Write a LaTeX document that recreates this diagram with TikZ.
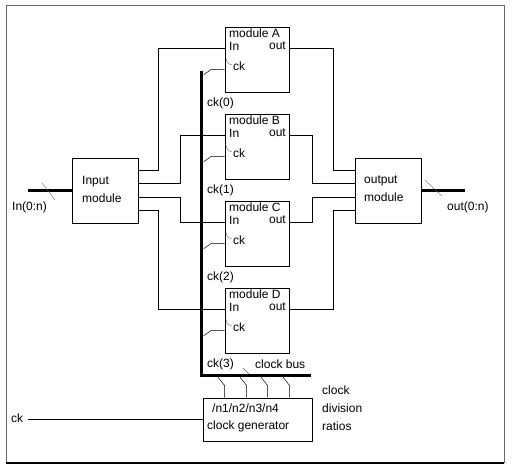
\documentclass[tikz,border=0pt]{standalone}
\usepackage{fontspec}
\setmainfont{Liberation Sans}
\begin{document}
\begin{tikzpicture}
  [
  x=1pt,y=-1pt,
  modbox/.style={draw,line width=0.6pt,minimum width=64pt,minimum height=65pt,inner sep=0pt},
  iobox/.style={draw,line width=0.6pt,minimum width=66pt,minimum height=65pt,inner sep=0pt},
  lbl/.style={inner sep=0pt,anchor=west,align=left,font=\fontsize{12}{18}\selectfont},
  wire/.style={line width=0.5pt},
  bus/.style={line width=3pt},
  thickbus/.style={line width=2.5pt},
  tick/.style={line width=0.4pt,black!60}
  ]
  \useasboundingbox (0,0) rectangle (512,469);
  \draw[black!60] (6,463) -- (6,5) -- (504,5) -- (504,463);
  \draw[line width=1.2pt] (6,463) -- (504,463);

  \node[iobox] (in) at (105,190.5) {};
  \node[lbl] (intxt) at (82,189) {Input\\module};
  \node[iobox] (out) at (388,190.5) {};
  \node[lbl] (outtxt) at (364,189) {output\\module};

  \foreach \m/\t/\k in {A/27/0,B/114/1,C/201/2,D/288/3}
  {
    \node[modbox] (mod\m) at (257,\t+32.5) {};
    \node[lbl] (name\m) at (229,\t+6.5) {module \m};
    \node[lbl] (tin\m) at (229,\t+19) {In};
    \node[lbl,anchor=east] (tout\m) at (286,\t+19) {out};
    \node[lbl] (tck\m) at (233,\t+39.5) {ck};
    \node[lbl] (ck\k) at (207,\t+76) {ck(\k)};
    \coordinate (in\m) at ([yshift=-22pt]mod\m.north west);
    \coordinate (out\m) at ([yshift=-22pt]mod\m.north east);
    \coordinate (clk\m) at ([yshift=-43pt]mod\m.north west);
    \draw[wire] (clk\m) -- ++(-14,0) -- ++(-7,5);
    \draw[tick] ([shift={(1,-12)}]clk\m) .. controls ([shift={(3,-6)}]clk\m) .. ([shift={(7,-5)}]clk\m);
  }

  \draw[wire] ([yshift=-13pt]in.north east) -- ++(20,0) |- (inA);
  \draw[wire] ([yshift=-26pt]in.north east) -- ++(42,0) |- (inB);
  \draw[wire] ([yshift=-40pt]in.north east) -- ++(42,0) |- (inC);
  \draw[wire] ([yshift=-53pt]in.north east) -- ++(20,0) |- (inD);
  \draw[wire] (outA) -- ++(44,0) |- ([yshift=-13pt]out.north west);
  \draw[wire] (outB) -- ++(23,0) |- ([yshift=-26pt]out.north west);
  \draw[wire] (outC) -- ++(23,0) |- ([yshift=-40pt]out.north west);
  \draw[wire] (outD) -- ++(44,0) |- ([yshift=-53pt]out.north west);

  \coordinate (inend) at (28,190.5);
  \coordinate (outend) at (465,190.5);
  \draw[thickbus] (inend) -- (in.west);
  \draw[thickbus] (out.east) -- (outend);
  \draw[tick] (42,183) -- (55,200);
  \draw[tick] (425,180) -- (442,196);
  \node[lbl] (inlbl) at (12,207) {In(0:n)};
  \node[lbl] (outlbl) at (447,207) {out(0:n)};

  \coordinate (bustop) at (201.5,71);
  \coordinate (buscorner) at (201.5,375);
  \coordinate (busend) at (311,375);
  \draw[bus] (bustop) -- (buscorner) -- (busend);
  \node[lbl] (buslbl) at (255,364) {clock bus};

  \node[draw,line width=0.6pt,minimum width=109pt,minimum height=43pt,inner sep=0pt] (gen) at (257.5,419.5) {};
  \node[lbl] (ratios) at (212,408) {/n1/n2/n3/n4};
  \node[lbl] (gentxt) at (207,426) {clock generator};
  \node[lbl] (divtxt) at (322,408) {clock\\division\\ratios};
  \foreach \d in {22,44,65,87}
    \draw[wire] ([xshift=\d pt]gen.north west) -- ++(0,-12) -- ++(-7,-9);
  \draw[tick] (243,368) -- (249,374);

  \node[lbl] (cklbl) at (11,418) {ck};
  \coordinate (ckin) at (28,419.5);
  \draw[wire] (ckin) -- (gen.west);
\end{tikzpicture}
\end{document}
